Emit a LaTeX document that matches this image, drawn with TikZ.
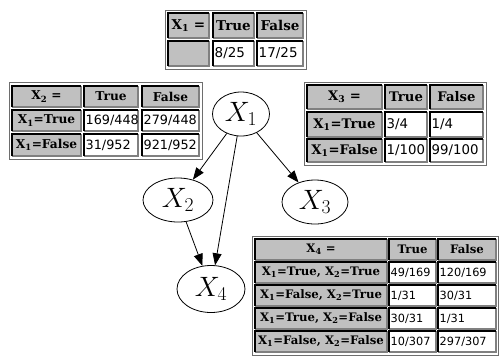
\documentclass[tikz,border=0pt]{standalone}
\usepackage{fix-cm}
\usepackage{fontspec}
\setmainfont{DejaVu Serif}
\newfontfamily\datafont{DejaVu Sans}
\usetikzlibrary{shapes.geometric,arrows.meta}

% one header cell / one value cell: name, x1, y1, x2, y2, text
\newcommand{\hcell}[6]{%
  \fill[hdfill] (#2,#3) rectangle (#4,#5);
  \draw[litedge] (#2,#5) -- (#4,#5) -- (#4,#3);
  \draw[darkedge] (#2,#5) -- (#2,#3) -- (#4,#3);
  \node[hdtext] (#1) at ({(#2+#4)/2},{(#3+#5)/2}) {#6};}
\newcommand{\vcell}[6]{%
  \fill[white] (#2,#3) rectangle (#4,#5);
  \draw[litedge] (#2,#5) -- (#4,#5) -- (#4,#3);
  \draw[darkedge] (#2,#5) -- (#2,#3) -- (#4,#3);
  \node[valtext] (#1) at ({#2+1.5},{(#3+#5)/2}) {#6};}
\newcommand{\tframe}[4]{%
  \draw[frameedge] (#1,#2) rectangle (#3,#4);}

\tikzset{
  hdfill/.style={fill={rgb,255:red,192;green,192;blue,192}},
  litedge/.style={draw={rgb,255:red,128;green,128;blue,128},line width=1.4pt},
  darkedge/.style={draw=black,line width=1.4pt},
  frameedge/.style={draw={rgb,255:red,110;green,110;blue,110},line width=0.9pt},
  hdtext/.style={inner sep=0pt,anchor=center},
  valtext/.style={inner sep=0pt,anchor=west},
  varnode/.style={draw,ellipse,inner sep=0pt,line width=0.8pt,minimum height=44pt,
    font=\fontsize{28}{28}\selectfont},
  dep/.style={line width=0.8pt,-{Triangle[length=12pt,width=9pt]}}
}

\begin{document}
\begin{tikzpicture}[x=1pt,y=1pt,yscale=-1,xscale=1]
\useasboundingbox (0,0) rectangle (500,360);

% table of X1
\begin{scope}[hdtext/.append style={font={\fontsize{13.5}{14}\selectfont\bfseries}},
  valtext/.append style={font={\datafont\fontsize{13.5}{14}\selectfont}}]
\tframe{165}{10}{306}{69}
\hcell{ta11}{168}{13}{209}{38}{X\textsubscript{1} =}
\hcell{ta12}{213}{13}{254}{38}{True}
\hcell{ta13}{257}{13}{303}{38}{False}
\hcell{ta21}{168}{41}{209}{66}{}
\vcell{ta22}{213}{41}{254}{66}{8/25}
\vcell{ta23}{257}{41}{303}{66}{17/25}
\end{scope}

% table of X2
\begin{scope}[hdtext/.append style={font={\fontsize{12.2}{13}\selectfont\bfseries}},
  valtext/.append style={font={\datafont\fontsize{12.8}{13}\selectfont}}]
\tframe{9}{82}{202}{159}
\hcell{tb11}{12}{86}{81}{107}{X\textsubscript{2} =}
\hcell{tb12}{84}{86}{138}{107}{True}
\hcell{tb13}{142}{86}{199}{107}{False}
\hcell{tb21}{12}{110}{81}{131}{X\textsubscript{1}=True}
\vcell{tb22}{84}{110}{138}{131}{169/448}
\vcell{tb23}{142}{110}{199}{131}{279/448}
\hcell{tb31}{12}{134}{81}{156}{X\textsubscript{1}=False}
\vcell{tb32}{84}{134}{138}{156}{31/952}
\vcell{tb33}{142}{134}{199}{156}{921/952}
\end{scope}

% table of X3
\begin{scope}[hdtext/.append style={font={\fontsize{13.2}{14}\selectfont\bfseries}},
  valtext/.append style={font={\datafont\fontsize{13.3}{14}\selectfont}}]
\tframe{304}{82}{486}{165}
\hcell{tc11}{307}{85}{382}{109}{X\textsubscript{3} =}
\hcell{tc12}{385}{85}{427}{109}{True}
\hcell{tc13}{430}{85}{483}{109}{False}
\hcell{tc21}{307}{112}{382}{137}{X\textsubscript{1}=True}
\vcell{tc22}{385}{112}{427}{137}{3/4}
\vcell{tc23}{430}{112}{483}{137}{1/4}
\hcell{tc31}{307}{139}{382}{162}{X\textsubscript{1}=False}
\vcell{tc32}{385}{139}{427}{162}{1/100}
\vcell{tc33}{430}{139}{483}{162}{99/100}
\end{scope}

% table of X4
\begin{scope}[hdtext/.append style={font={\fontsize{11.7}{12}\selectfont\bfseries}},
  valtext/.append style={font={\datafont\fontsize{11.3}{12}\selectfont}}]
\tframe{252}{236}{498}{355}
\hcell{td11}{255}{239}{387}{260}{X\textsubscript{4} =}
\hcell{td12}{389}{239}{436}{260}{True}
\hcell{td13}{438}{239}{496}{260}{False}
\hcell{td21}{255}{262}{387}{283}{X\textsubscript{1}=True, X\textsubscript{2}=True}
\vcell{td22}{389}{262}{436}{283}{49/169}
\vcell{td23}{438}{262}{496}{283}{120/169}
\hcell{td31}{255}{285}{387}{306}{X\textsubscript{1}=False, X\textsubscript{2}=True}
\vcell{td32}{389}{285}{436}{306}{1/31}
\vcell{td33}{438}{285}{496}{306}{30/31}
\hcell{td41}{255}{308}{387}{329}{X\textsubscript{1}=True, X\textsubscript{2}=False}
\vcell{td42}{389}{308}{436}{329}{30/31}
\vcell{td43}{438}{308}{496}{329}{1/31}
\hcell{td51}{255}{331}{387}{352}{X\textsubscript{1}=False, X\textsubscript{2}=False}
\vcell{td52}{389}{331}{436}{352}{10/307}
\vcell{td53}{438}{331}{496}{352}{297/307}
\end{scope}

% the network
\node[varnode,minimum width=57pt] (x1) at (241,114) {$X_1$};
\node[varnode,minimum width=70pt] (x2) at (178,200) {$X_2$};
\node[varnode,minimum width=66pt] (x3) at (315,202) {$X_3$};
\node[varnode,minimum width=68pt,minimum height=47pt] (x4) at (211,289) {$X_4$};

\draw[dep] (x1) -- (x2);
\draw[dep] (x1) -- (x3);
\draw[dep] (x1) -- (x4);
\draw[dep] (x2) -- (x4);

\end{tikzpicture}
\end{document}
